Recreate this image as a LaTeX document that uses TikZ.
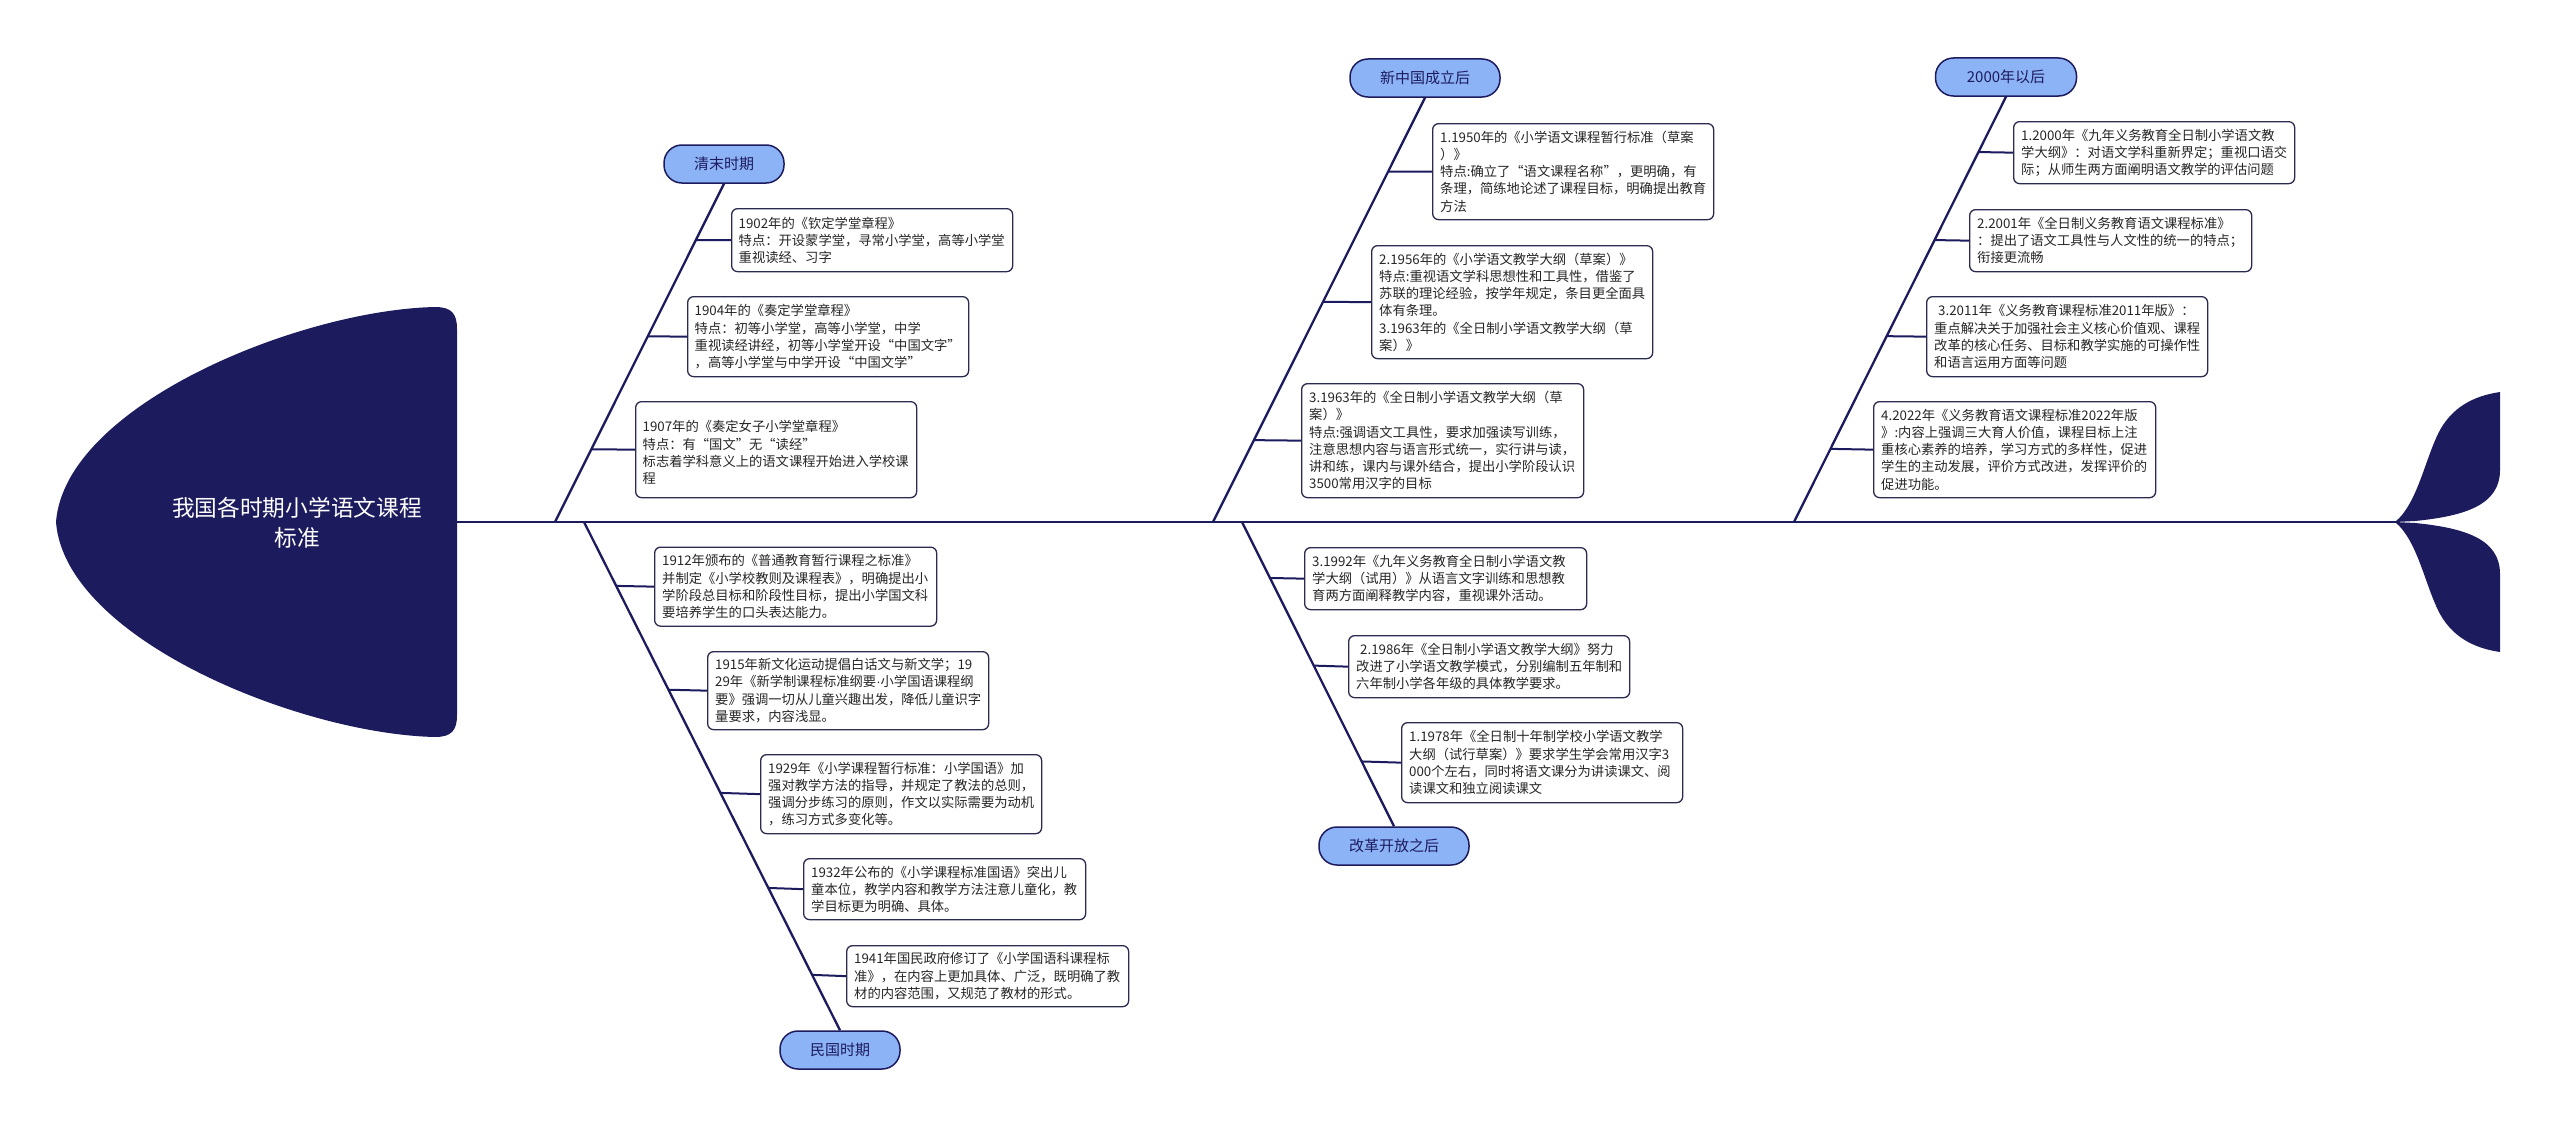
\documentclass[tikz,border=0pt]{standalone}
\usepackage{fontspec}
\setmainfont{Noto Sans CJK SC}
\newfontfamily\latinf{Liberation Sans}
\usetikzlibrary{calc}
\definecolor{navy}{HTML}{1C1B5E}
\definecolor{bubblefill}{HTML}{8DB3F7}
\definecolor{txtc}{HTML}{262626}
\definecolor{boxline}{HTML}{2B2B4F}
\begin{document}
\begin{tikzpicture}[x=1pt,y=-1pt,
  boxnode/.style={draw=boxline, line width=1.3pt, fill=white, rounded corners=6pt, inner sep=0pt, anchor=north west},
  txt/.style={anchor=west, align=left, inner sep=0pt, text=txtc, font=\fontsize{13.3pt}{17.2pt}\selectfont},
  bubble/.style={draw=navy, line width=1.5pt, fill=bubblefill, rounded corners=18pt, minimum height=38pt, text=navy, font=\fontsize{15pt}{18pt}\selectfont, inner sep=0pt},
  bone/.style={draw=navy, line width=2.3pt},
  spine/.style={draw=navy, line width=2pt},
  conn/.style={draw=navy, line width=2pt},
]
\useasboundingbox[fill=white] (0,0) rectangle (2560,1132);

% head
\fill[navy] (435,307) .. controls (300,310) and (65,405) .. (56,522)
  .. controls (65,639) and (300,734) .. (435,737)
  .. controls (452,737) and (457,730) .. (457,715) -- (457,329)
  .. controls (457,314) and (452,307) .. (435,307) -- cycle;
\node[font=\fontsize{22.7pt}{30pt}\selectfont, text=white, align=center, inner sep=0pt] (title) at (297,523) {我国各时期小学语文课程\\标准};

% tail
\fill[navy] (2395,522) .. controls (2418,503) and (2425,458) .. (2440,430)
  .. controls (2455,403) and (2480,395) .. (2500,392) -- (2500,470)
  .. controls (2500,505) and (2465,516) .. (2415,521) -- cycle;
\fill[navy] (2395,522) .. controls (2418,541) and (2425,586) .. (2440,614)
  .. controls (2455,641) and (2480,649) .. (2500,652) -- (2500,574)
  .. controls (2500,539) and (2465,528) .. (2415,523) -- cycle;

\coordinate (hd) at (457,522);
\coordinate (tl) at (2397,522);
\coordinate (s1) at (555,522);
\coordinate (s2) at (584,522);
\coordinate (s3) at (1213,522);
\coordinate (s4) at (1242,522);
\coordinate (s5) at (1794,522);

% bubbles
\node[bubble, minimum width=120pt] (q1) at (724,164) {清末时期};
\node[bubble, minimum width=120pt] (q2) at (840,1050) {民国时期};
\node[bubble, minimum width=150pt] (q3) at (1425,78) {新中国成立后};
\node[bubble, minimum width=150pt] (q4) at (1394,846) {改革开放之后};
\node[bubble, minimum width=141pt] (q5) at (2006,77) {2000年以后};

% boxes
\node[boxnode, minimum width=281pt, minimum height=63pt] (b1902) at (731,208) {};
\node[boxnode, minimum width=281pt, minimum height=80pt] (b1904) at (687,296) {};
\node[boxnode, minimum width=281pt, minimum height=96pt] (b1907) at (635,401) {};
\node[boxnode, minimum width=282pt, minimum height=79pt] (b1912) at (654,546.5) {};
\node[boxnode, minimum width=281pt, minimum height=78pt] (b1915) at (707,651) {};
\node[boxnode, minimum width=281pt, minimum height=79pt] (b1929) at (760,754) {};
\node[boxnode, minimum width=282pt, minimum height=61pt] (b1932) at (803,858) {};
\node[boxnode, minimum width=282pt, minimum height=61pt] (b1941) at (846,945) {};
\node[boxnode, minimum width=281pt, minimum height=96pt] (b1950) at (1432,123) {};
\node[boxnode, minimum width=281pt, minimum height=113pt] (b1956) at (1371,245) {};
\node[boxnode, minimum width=282pt, minimum height=114pt] (b1963) at (1301,383) {};
\node[boxnode, minimum width=282pt, minimum height=62pt] (b1992) at (1304,547) {};
\node[boxnode, minimum width=281pt, minimum height=62pt] (b1986) at (1348,635) {};
\node[boxnode, minimum width=281pt, minimum height=80pt] (b1978) at (1401,722) {};
\node[boxnode, minimum width=281pt, minimum height=62pt] (b2000) at (2013,121) {};
\node[boxnode, minimum width=282pt, minimum height=62pt] (b2001) at (1969,209) {};
\node[boxnode, minimum width=281pt, minimum height=80pt] (b2011) at (1926,296) {};
\node[boxnode, minimum width=282pt, minimum height=96pt] (b2022) at (1873,401) {};

% texts
\node[txt] (t1902) at ([xshift=7.5pt]b1902.west) {1902年的《钦定学堂章程》\\特点：开设蒙学堂，寻常小学堂，高等小学堂\\重视读经、习字};
\node[txt] (t1904) at ([xshift=7.5pt]b1904.west) {1904年的《奏定学堂章程》\\特点：初等小学堂，高等小学堂，中学\\重视读经讲经，初等小学堂开设“中国文字”\\，高等小学堂与中学开设“中国文学”};
\node[txt] (t1907) at ([xshift=7.5pt]b1907.west) {\mbox{}\\1907年的《奏定女子小学堂章程》\\特点：有“国文”无“读经”\\标志着学科意义上的语文课程开始进入学校课\\程};
\node[txt] (t1912) at ([xshift=8pt]b1912.west) {1912年颁布的《普通教育暂行课程之标准》\\并制定《小学校教则及课程表》，明确提出小\\学阶段总目标和阶段性目标，提出小学国文科\\要培养学生的口头表达能力。};
\node[txt] (t1915) at ([xshift=8pt]b1915.west) {1915年新文化运动提倡白话文与新文学；19\\29年《新学制课程标准纲要{\latinf ·}小学国语课程纲\\要》强调一切从儿童兴趣出发，降低儿童识字\\量要求，内容浅显。};
\node[txt] (t1929) at ([xshift=8pt]b1929.west) {1929年《小学课程暂行标准：小学国语》加\\强对教学方法的指导，并规定了教法的总则，\\强调分步练习的原则，作文以实际需要为动机\\，练习方式多变化等。};
\node[txt] (t1932) at ([xshift=8pt]b1932.west) {1932年公布的《小学课程标准国语》突出儿\\童本位，教学内容和教学方法注意儿童化，教\\学目标更为明确、具体。};
\node[txt] (t1941) at ([xshift=8pt]b1941.west) {1941年国民政府修订了《小学国语科课程标\\准》，在内容上更加具体、广泛，既明确了教\\材的内容范围，又规范了教材的形式。};
\node[txt] (t1950) at ([xshift=8pt]b1950.west) {1.1950年的《小学语文课程暂行标准（草案\\）》\\特点:确立了“语文课程名称”，更明确，有\\条理，简练地论述了课程目标，明确提出教育\\方法};
\node[txt] (t1956) at ([xshift=8pt]b1956.west) {2.1956年的《小学语文教学大纲（草案）》\\特点:重视语文学科思想性和工具性，借鉴了\\苏联的理论经验，按学年规定，条目更全面具\\体有条理。\\3.1963年的《全日制小学语文教学大纲（草\\案）》};
\node[txt] (t1963) at ([xshift=8pt]b1963.west) {3.1963年的《全日制小学语文教学大纲（草\\案）》\\特点:强调语文工具性，要求加强读写训练，\\注意思想内容与语言形式统一，实行讲与读，\\讲和练，课内与课外结合，提出小学阶段认识\\3500常用汉字的目标};
\node[txt] (t1992) at ([xshift=8pt]b1992.west) {3.1992年《九年义务教育全日制小学语文教\\学大纲（试用）》从语言文字训练和思想教\\育两方面阐释教学内容，重视课外活动。};
\node[txt] (t1986) at ([xshift=8pt]b1986.west) {\hspace*{4pt}2.1986年《全日制小学语文教学大纲》努力\\改进了小学语文教学模式，分别编制五年制和\\六年制小学各年级的具体教学要求。};
\node[txt] (t1978) at ([xshift=8pt]b1978.west) {1.1978年《全日制十年制学校小学语文教学\\大纲（试行草案）》要求学生学会常用汉字3\\000个左右，同时将语文课分为讲读课文、阅\\读课文和独立阅读课文};
\node[txt] (t2000) at ([xshift=8pt]b2000.west) {1.2000年《九年义务教育全日制小学语文教\\学大纲》：对语文学科重新界定；重视口语交\\际；从师生两方面阐明语文教学的评估问题};
\node[txt] (t2001) at ([xshift=8pt]b2001.west) {2.2001年《全日制义务教育语文课程标准》\\：提出了语文工具性与人文性的统一的特点；\\衔接更流畅};
\node[txt] (t2011) at ([xshift=8pt]b2011.west) {\hspace*{4pt}3.2011年《义务教育课程标准2011年版》：\\重点解决关于加强社会主义核心价值观、课程\\改革的核心任务、目标和教学实施的可操作性\\和语言运用方面等问题};
\node[txt] (t2022) at ([xshift=8pt]b2022.west) {4.2022年《义务教育语文课程标准2022年版\\》:内容上强调三大育人价值，课程目标上注\\重核心素养的培养，学习方式的多样性，促进\\学生的主动发展，评价方式改进，发挥评价的\\促进功能。};

% spine and bones
\draw[spine] (hd) -- (tl);
\draw[bone] (q1.south) -- (s1);
\draw[bone] (s2) -- (q2.north);
\draw[bone] (q3.south) -- (s3);
\draw[bone] (s4) -- (q4.north);
\draw[bone] (q5.south) -- (s5);

% connectors
\draw[conn] ($(s1)!0.833!(q1.south)$) -- (b1902.west);
\draw[conn] ($(s1)!0.549!(q1.south)$) -- (b1904.west);
\draw[conn] ($(s1)!0.215!(q1.south)$) -- (b1907.west);
\draw[conn] ($(s2)!0.1257!(q2.north)$) -- (b1912.west);
\draw[conn] ($(s2)!0.330!(q2.north)$) -- (b1915.west);
\draw[conn] ($(s2)!0.533!(q2.north)$) -- (b1929.west);
\draw[conn] ($(s2)!0.720!(q2.north)$) -- (b1932.west);
\draw[conn] ($(s2)!0.891!(q2.north)$) -- (b1941.west);
\draw[conn] ($(s3)!0.826!(q3.south)$) -- (b1950.west);
\draw[conn] ($(s3)!0.519!(q3.south)$) -- (b1956.west);
\draw[conn] ($(s3)!0.193!(q3.south)$) -- (b1963.west);
\draw[conn] ($(s4)!0.184!(q4.north)$) -- (b1992.west);
\draw[conn] ($(s4)!0.472!(q4.north)$) -- (b1986.west);
\draw[conn] ($(s4)!0.787!(q4.north)$) -- (b1978.west);
\draw[conn] ($(s5)!0.870!(q5.south)$) -- (b2000.west);
\draw[conn] ($(s5)!0.663!(q5.south)$) -- (b2001.west);
\draw[conn] ($(s5)!0.437!(q5.south)$) -- (b2011.west);
\draw[conn] ($(s5)!0.172!(q5.south)$) -- (b2022.west);
\end{tikzpicture}
\end{document}
